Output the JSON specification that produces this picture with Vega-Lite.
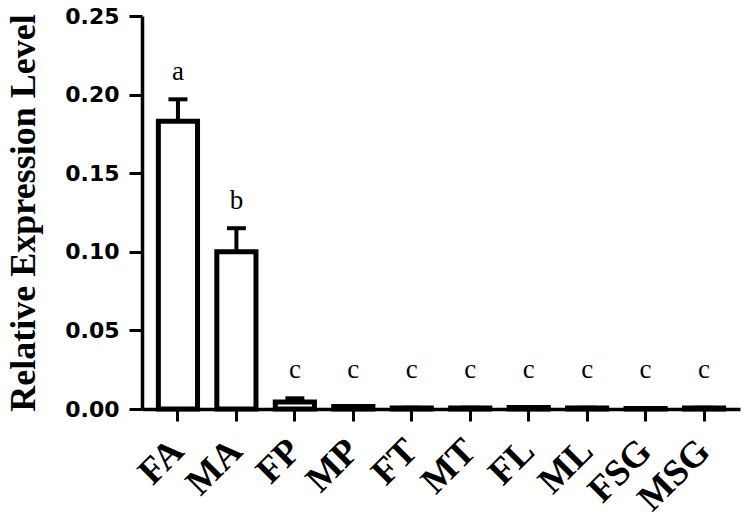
{
  "$schema": "https://vega.github.io/schema/vega-lite/v6.json",
  "width": 598,
  "height": 393,
  "autosize": {"type": "none"},
  "padding": {"left": 142, "top": 16, "right": 6, "bottom": 110},
  "background": "white",
  "config": {"view": {"stroke": null}},
  "data": {
    "values": [
      {"tissue": "FA", "mean": 0.183, "upper": 0.197, "letter": "a"},
      {"tissue": "MA", "mean": 0.1, "upper": 0.115, "letter": "b"},
      {"tissue": "FP", "mean": 0.0045, "upper": 0.0068, "letter": "c"},
      {"tissue": "MP", "mean": 0.0016, "upper": 0.0019, "letter": "c"},
      {"tissue": "FT", "mean": 0.0006, "upper": 0.0008, "letter": "c"},
      {"tissue": "MT", "mean": 0.0006, "upper": 0.0008, "letter": "c"},
      {"tissue": "FL", "mean": 0.0009, "upper": 0.0011, "letter": "c"},
      {"tissue": "ML", "mean": 0.0006, "upper": 0.0008, "letter": "c"},
      {"tissue": "FSG", "mean": 0.0003, "upper": 0.0004, "letter": "c"},
      {"tissue": "MSG", "mean": 0.0006, "upper": 0.0008, "letter": "c"}
    ]
  },
  "encoding": {
    "x": {
      "field": "tissue",
      "type": "nominal",
      "sort": null,
      "scale": {"paddingInner": 0.33, "paddingOuter": 0.28},
      "axis": {
        "title": null,
        "labelAngle": -45,
        "labelFont": "Liberation Serif",
        "labelFontWeight": "bold",
        "labelFontSize": 37,
        "labelColor": "black",
        "labelAlign": "right",
        "labelBaseline": "middle",
        "labelPadding": 24,
        "domainColor": "black",
        "domainWidth": 3.5,
        "tickColor": "black",
        "tickWidth": 3,
        "tickSize": 12
      }
    }
  },
  "layer": [
    {
      "mark": {"type": "bar", "fill": "white", "stroke": "black", "strokeWidth": 5},
      "encoding": {
        "y": {
          "field": "mean",
          "type": "quantitative",
          "scale": {"domain": [0, 0.25], "nice": false},
          "axis": {
            "title": "Relative Expression Level",
            "titleFont": "Liberation Serif",
            "titleFontWeight": "bold",
            "titleFontSize": 36,
            "titleColor": "black",
            "titlePadding": 22,
            "values": [0, 0.05, 0.1, 0.15, 0.2, 0.25],
            "format": ".2f",
            "labelFont": "DejaVu Sans",
            "labelFontWeight": "bold",
            "labelFontSize": 22,
            "labelColor": "black",
            "labelPadding": 10,
            "grid": false,
            "domainColor": "black",
            "domainWidth": 3.5,
            "tickColor": "black",
            "tickWidth": 3,
            "tickSize": 13
          }
        }
      }
    },
    {
      "mark": {"type": "rule", "stroke": "black", "strokeWidth": 4},
      "encoding": {
        "y": {"field": "mean", "type": "quantitative"},
        "y2": {"field": "upper"}
      }
    },
    {
      "mark": {"type": "tick", "color": "black", "opacity": 1, "thickness": 4, "size": 19, "orient": "horizontal"},
      "encoding": {
        "y": {"field": "upper", "type": "quantitative"}
      }
    },
    {
      "transform": [{"calculate": "max(datum.upper, 0.0075)", "as": "labelpos"}],
      "mark": {"type": "text", "font": "Liberation Serif", "fontSize": 27, "color": "black", "baseline": "alphabetic", "dy": -19},
      "encoding": {
        "y": {"field": "labelpos", "type": "quantitative"},
        "text": {"field": "letter"}
      }
    }
  ]
}
